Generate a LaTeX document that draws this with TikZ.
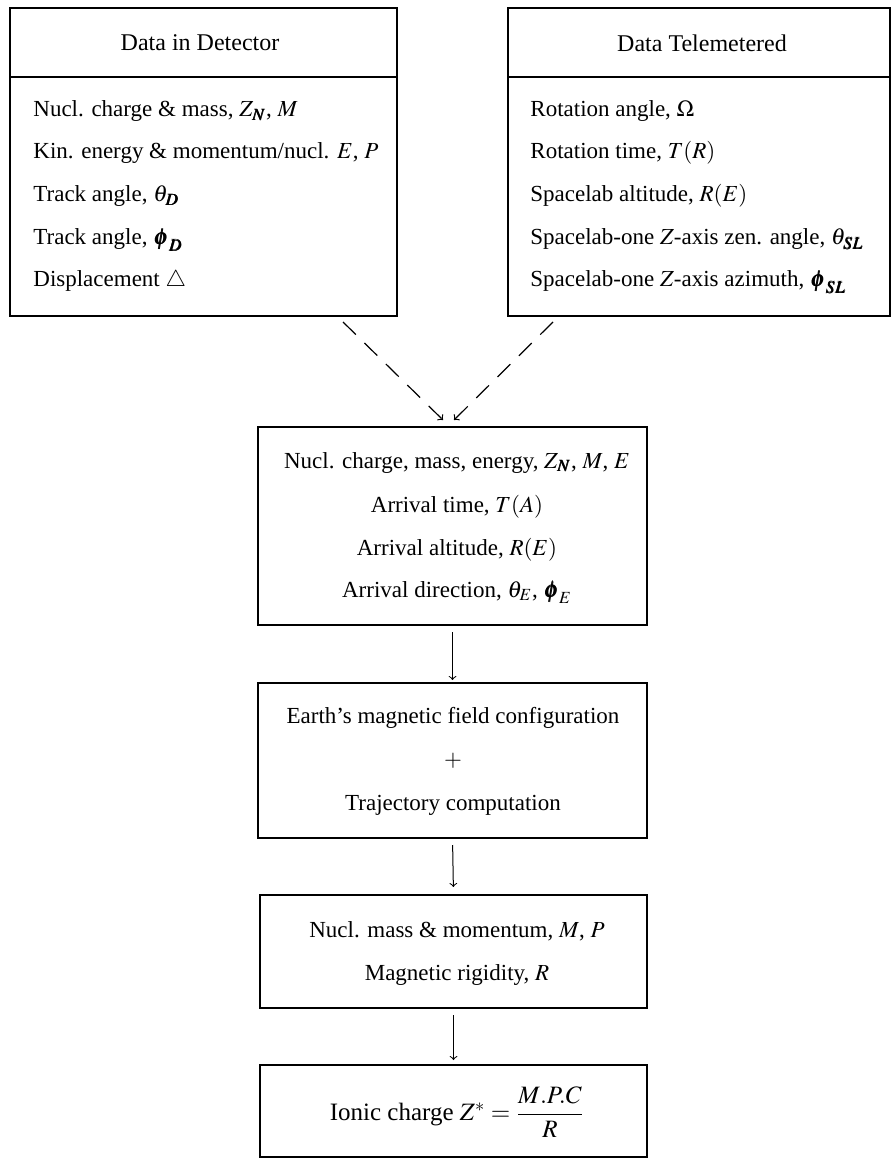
\documentclass[tikz,border=0pt]{standalone}
\usepackage{mathptmx}
\usepackage{bm}
\usepackage{fontspec}
\setmainfont{Liberation Serif}
\usepackage{tikz}
\usetikzlibrary{arrows}
\usetikzlibrary{fit}
\begin{document}
\begin{tikzpicture}[x=0.5pt, y=-0.5pt,
	box/.style={draw, line width=1.2pt, inner sep=0pt, outer sep=0pt},
	txt/.style={font=\fontsize{11.5}{14}\selectfont, inner sep=0pt},
	flow/.style={line width=0.5pt, ->, >=to},
	dashflow/.style={line width=0.6pt, ->, >=to, dash pattern=on 9pt off 6pt}]
	\useasboundingbox (0,0) rectangle (892,1159);
	%
	% boxes
	\node[box, fit={(10,8) (397,316)}] (det) {};
	\node[box, fit={(508,8) (890,316)}] (tel) {};
	\node[box, fit={(258,427) (647,625)}] (arr) {};
	\node[box, fit={(258,683) (647,838)}] (mag) {};
	\node[box, fit={(260,895) (647,1008)}] (rig) {};
	\node[box, fit={(260,1065) (647,1157)}] (ion) {};
	%
	% header lines
	\draw[line width=0.8pt] (det.west |- 0,77) -- (det.east |- 0,77);
	\draw[line width=0.8pt] (tel.west |- 0,77) -- (tel.east |- 0,77);
	%
	% dashed arrows
	\draw[dashflow] ([xshift=-27pt, yshift=-3pt]det.south east) -- ([xshift=-4.75pt, yshift=3.5pt]arr.north);
	\draw[dashflow] ([xshift=22.5pt, yshift=-3pt]tel.south west) -- ([xshift=0.75pt, yshift=3.5pt]arr.north);
	%
	% arrows
	\draw[flow, shorten <=3.5pt, shorten >=1.5pt] (arr.south) -- (mag.north);
	\draw[flow, shorten <=3.5pt, shorten >=4pt] (mag.south) -- (rig.north);
	\draw[flow, shorten <=3.5pt, shorten >=2.5pt] (rig.south) -- (ion.north);
	%
	% nodes -- text
	\node[txt, font=\fontsize{12}{14}\selectfont] (dethead) at (200,43) {Data in Detector};
	\node[txt, font=\fontsize{12}{14}\selectfont] (telhead) at (702,43) {Data Telemetered};
	\foreach \y/\t [count=\i] in {117/{Nucl. charge \& mass, $Z_{\bm N}$, $M$},
		159/{Kin. energy \& momentum/nucl. $E$, $P$},
		202/{Track angle, $\theta_{\bm D}$},
		245/{Track angle, $\bm\phi_{\bm D}$},
		287/{Displacement $\triangle$}}
		\node[txt, anchor=base west] (d\i) at (33,\y) {\t};
	\foreach \y/\t [count=\i] in {117/{Rotation angle, $\Omega$},
		159/{Rotation time, $T(R)$},
		202/{Spacelab altitude, $R(E)$},
		245/{Spacelab-one $Z$-axis zen. angle, $\theta_{\bm{SL}}$},
		287/{Spacelab-one $Z$-axis azimuth, $\bm\phi_{\bm{SL}}$}}
		\node[txt, anchor=base west] (t\i) at (530,\y) {\t};
	\foreach \y/\t [count=\i] in {468/{Nucl. charge, mass, energy, $Z_{\bm N}$, $M$, $E$},
		512/{Arrival time, $T(A)$},
		555/{Arrival altitude, $R(E)$},
		597/{Arrival direction, $\theta_E$, $\bm\phi_E$}}
		\node[txt, anchor=base] (a\i) at (457,\y) {\t};
	\node[txt, anchor=base] (m1) at (453,723) {Earth's magnetic field configuration};
	\node[txt, anchor=base] (m2) at (453,766) {$+$};
	\node[txt, anchor=base] (m3) at (453,810) {Trajectory computation};
	\node[txt, anchor=base] (r1) at (457,937) {Nucl. mass \& momentum, $M$, $P$};
	\node[txt, anchor=base] (r2) at (457,980) {Magnetic rigidity, $R$};
	\node[txt, font=\fontsize{12.5}{15}\selectfont] (i1) at (457,1112) {Ionic charge $Z^{*} = \displaystyle\frac{M.P.C}{R}$};
\end{tikzpicture}
\end{document}
